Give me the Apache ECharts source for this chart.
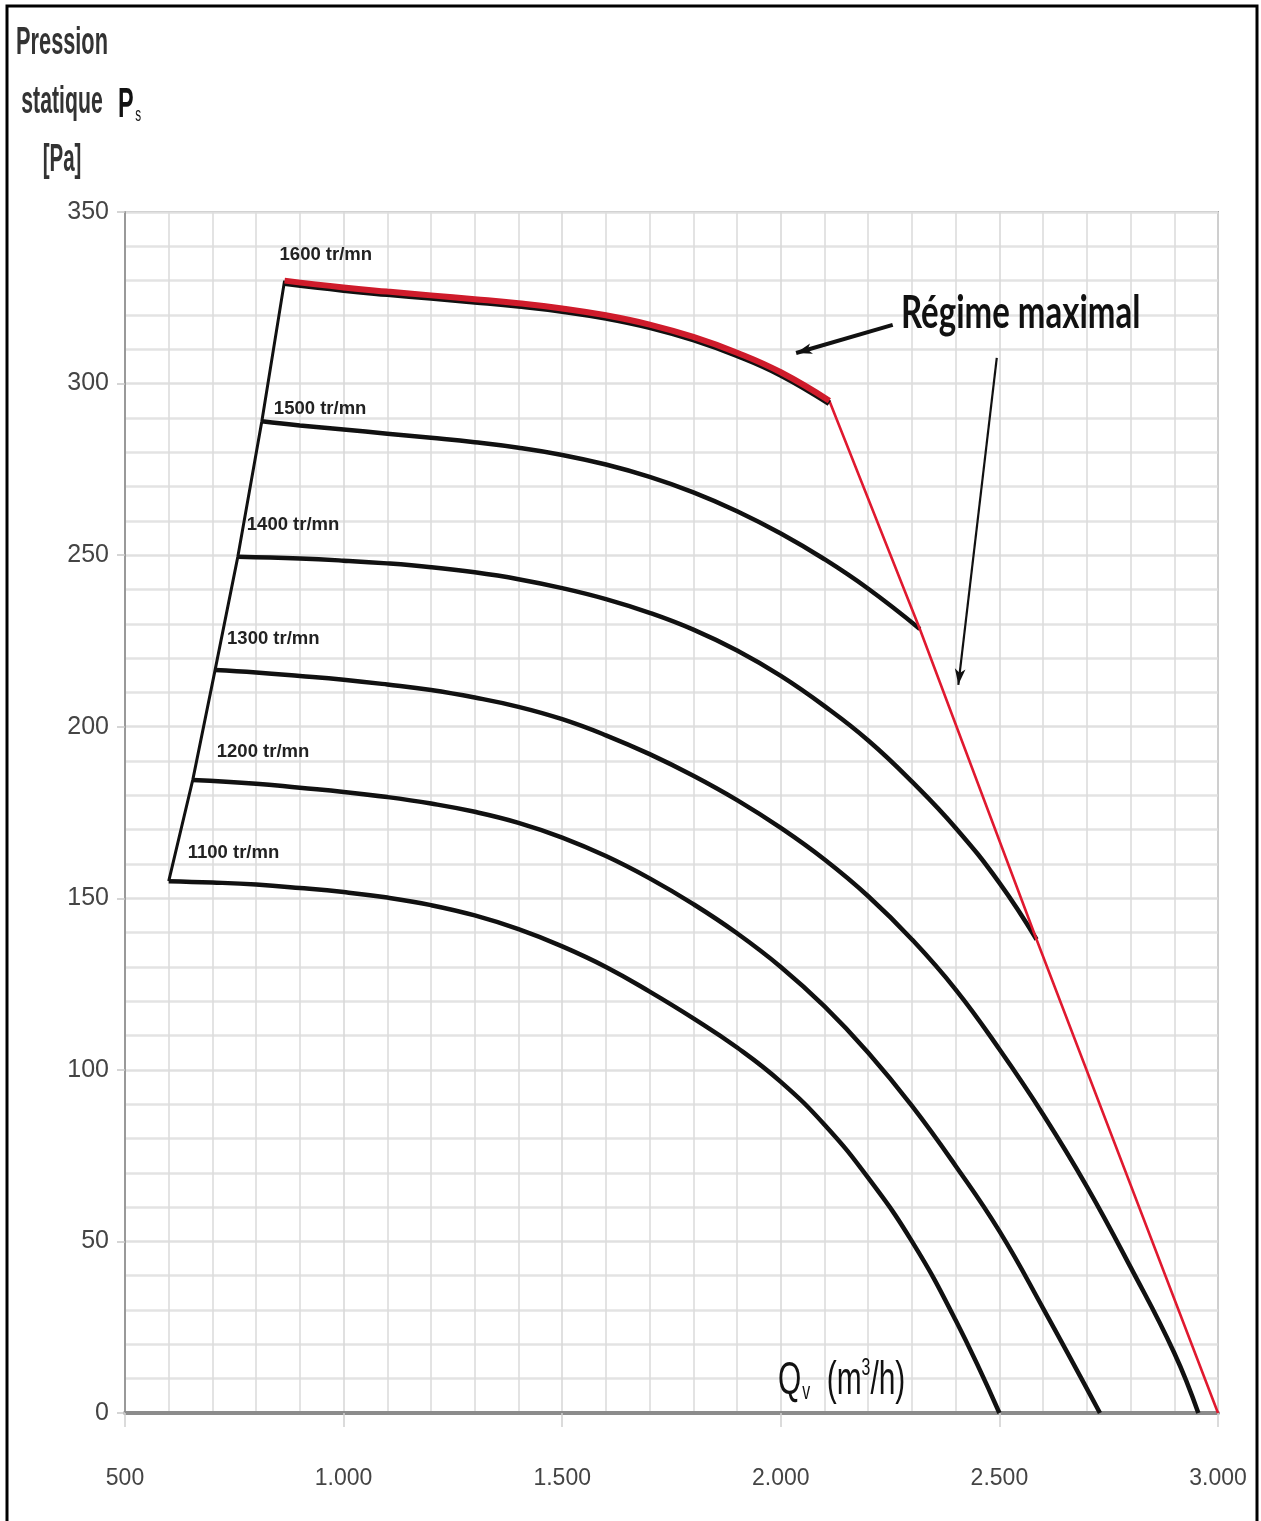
<!DOCTYPE html>
<html><head><meta charset="utf-8">
<script src="https://cdn.jsdelivr.net/npm/echarts@6/dist/echarts.min.js"></script>
<style>html,body{margin:0;padding:0;background:#fff}#c{width:1261px;height:1521px}</style>
</head><body><div id="c"></div>
<script>
// ---- data (Qv in m3/h, Ps in Pa) ----
const speeds = [1100, 1200, 1300, 1400, 1500, 1600];
const speedLabels = ['1100 tr/mn', '1200 tr/mn', '1300 tr/mn', '1400 tr/mn', '1500 tr/mn', '1600 tr/mn'];
const curve1100 = [[600,155],[700,154.6],[800,154],[900,153],[1000,151.8],[1100,150.2],[1200,148],[1300,145],[1400,141],[1500,136],[1600,130],[1700,122.8],[1800,115],[1900,106.5],[2000,96.5],[2100,84],[2200,68.5],[2300,50],[2400,27],[2500,0]];
const curve1200 = [[655,184.5],[800,183.4],[900,182.2],[1000,181],[1100,179.5],[1200,177.6],[1300,175.2],[1400,172],[1500,167.7],[1600,162.3],[1700,155.8],[1800,148.3],[1900,139.8],[2000,130],[2100,118.5],[2200,105],[2300,89.5],[2400,72],[2500,53],[2600,30.5],[2730,0]];
const curve1300 = [[706,216.5],[800,215.8],[900,214.8],[1000,213.7],[1100,212.3],[1200,210.7],[1300,208.5],[1400,205.8],[1500,202.2],[1600,197.5],[1700,192],[1800,185.7],[1900,178.6],[2000,170.5],[2100,161.3],[2200,150.6],[2300,138],[2400,123.4],[2500,106],[2600,87],[2700,66],[2800,42.5],[2900,17.5],[2955,0]];
const curve1400 = [[758,249.5],[900,249],[1000,248.4],[1100,247.6],[1200,246.5],[1300,245],[1400,243],[1500,240.4],[1600,237.2],[1700,233.2],[1800,228.3],[1900,222.2],[2000,214.8],[2100,206],[2200,196],[2300,184],[2400,170.5],[2500,154.5],[2585,138]];
const curve1500 = [[813,289],[900,287.8],[1000,286.6],[1100,285.4],[1200,284.2],[1300,282.9],[1400,281.3],[1500,279.2],[1600,276.4],[1700,272.8],[1800,268.3],[1900,262.8],[2000,256.3],[2100,248.8],[2200,240.2],[2318,228.5]];
const curve1600 = [[865,330],[1000,328],[1100,326.8],[1200,325.7],[1300,324.6],[1400,323.4],[1500,321.9],[1600,319.9],[1700,317.2],[1800,313.6],[1900,309],[2000,303.3],[2111,295]];
const maxRegime = [[2111,295],[2318,228.5],[2585,138],[3000,0]];
const xTicks = [500, 1000, 1500, 2000, 2500, 3000];
const yTicks = [0, 50, 100, 150, 200, 250, 300, 350];
const arrowToCurve = [[2256,317.1],[2035,308.9]];
const arrowToLine = [[2494,307.5],[2406,212.2]];

// ---- chart ----
const curves = [curve1100, curve1200, curve1300, curve1400, curve1500, curve1600];
const sans = "'Liberation Sans','Arimo',sans-serif";
const labelOffsets = [[14,-28],[19,-28],[7,-31],[4,-32],[7,-12],[-10,-26]];
const chart = echarts.init(document.getElementById('c'), null, {renderer: 'canvas'});

const fmtX = v => v >= 1000 ? Math.floor(v / 1000) + '.' + String(v % 1000).padStart(3, '0') : String(v);

const series = [];
curves.forEach((c, i) => {
  const isMax = i === curves.length - 1;
  series.push({
    type: 'line', name: speedLabels[i], silent: true, animation: false,
    smooth: 0.45, symbol: 'circle', symbolSize: 0, showSymbol: true,
    z: isMax ? 6 : 3,
    lineStyle: isMax
      ? {color: '#cf1b2b', width: 6, shadowColor: '#111', shadowOffsetY: 2.5, shadowBlur: 0}
      : {color: '#111', width: 4.5},
    data: c.map((p, j) => j === 0 ? {
      value: p,
      label: {show: true, formatter: speedLabels[i], position: 'right', offset: labelOffsets[i],
        fontFamily: sans, fontSize: 18.5, fontWeight: 'bold', color: '#222', align: 'left'}
    } : p)
  });
});
series.push({
  type: 'line', name: 'limite', silent: true, animation: false, z: 4,
  symbol: 'none', lineStyle: {color: '#111', width: 3},
  data: curves.map(c => c[0])
});
series.push({
  type: 'line', name: 'Régime maximal', silent: true, animation: false, z: 5,
  symbol: 'none', lineStyle: {color: '#e0192f', width: 2.6},
  data: maxRegime,
  markLine: {
    silent: true, animation: false, symbol: ['none', 'arrow'],
    label: {show: false},
    data: [
      [{coord: arrowToCurve[0], symbolSize: [20, 24], lineStyle: {color: '#111', width: 4, type: 'solid'}}, {coord: arrowToCurve[1]}],
      [{coord: arrowToLine[0], symbolSize: [16, 26], lineStyle: {color: '#111', width: 2.2, type: 'solid'}}, {coord: arrowToLine[1]}]
    ]
  }
});

const T = 100; // z for overlay texts
chart.setOption({
  backgroundColor: '#fff',
  animation: false,
  grid: {left: 125, right: 43, top: 212, bottom: 108, show: true, borderColor: '#a8a8a8', borderWidth: 2, backgroundColor: 'transparent'},
  xAxis: {
    type: 'value', min: xTicks[0], max: xTicks[xTicks.length - 1], interval: xTicks[1] - xTicks[0],
    axisLine: {show: true, onZero: false, lineStyle: {color: '#8c8c8c', width: 4}},
    axisTick: {show: true, length: 14, lineStyle: {color: '#cfcfcf', width: 1.5}},
    axisLabel: {formatter: fmtX, fontFamily: sans, fontSize: 23, color: '#444', margin: 54},
    splitLine: {show: true, lineStyle: {color: '#d9d9d9', width: 1.6}},
    minorTick: {show: false, splitNumber: 5},
    minorSplitLine: {show: true, lineStyle: {color: '#dcdcdc', width: 1.6}}
  },
  yAxis: {
    type: 'value', min: yTicks[0], max: yTicks[yTicks.length - 1], interval: yTicks[1] - yTicks[0],
    axisLine: {show: true, lineStyle: {color: '#999', width: 2}},
    axisTick: {show: true, length: 8, lineStyle: {color: '#c8c8c8', width: 1.5}},
    axisLabel: {fontFamily: sans, fontSize: 25, color: '#444', margin: 16},
    splitLine: {show: true, lineStyle: {color: '#e0e0e0', width: 2.6}},
    minorTick: {show: false, splitNumber: 5},
    minorSplitLine: {show: true, lineStyle: {color: '#e3e3e3', width: 2.6}}
  },
  series: series,
  graphic: [
    {type: 'rect', silent: true, z: T, shape: {x: 7, y: 6, width: 1250, height: 1540}, style: {fill: 'none', stroke: '#000', lineWidth: 3}},
    {type: 'text', silent: true, z: T, x: 62, y: 24, scaleX: 0.87, scaleY: 1.55, style: {text: 'Pression', fontFamily: sans, fontWeight: 'bold', fontSize: 25, fill: '#333', align: 'center', verticalAlign: 'top'}},
    {type: 'text', silent: true, z: T, x: 62, y: 83, scaleX: 0.85, scaleY: 1.55, style: {text: 'statique', fontFamily: sans, fontWeight: 'bold', fontSize: 25, fill: '#333', align: 'center', verticalAlign: 'top'}},
    {type: 'text', silent: true, z: T, x: 118, y: 84, scaleX: 0.78, scaleY: 1.4, style: {text: '{p|P}{s|s}', rich: {p: {fontFamily: sans, fontSize: 30, fontWeight: 'bold', fill: '#111', verticalAlign: 'bottom'}, s: {fontFamily: sans, fontSize: 15, fill: '#111', verticalAlign: 'bottom', padding: [0, 0, 0, 2]}}, verticalAlign: 'top'}},
    {type: 'text', silent: true, z: T, x: 62, y: 141, scaleX: 0.82, scaleY: 1.55, style: {text: '[Pa]', fontFamily: sans, fontWeight: 'bold', fontSize: 25, fill: '#333', align: 'center', verticalAlign: 'top'}},
    {type: 'text', silent: true, z: T, x: 901, y: 291, scaleY: 1.38, style: {text: 'Régime maximal', fontFamily: 'Lato', fontWeight: 'bold', fontSize: 33, fill: '#111', verticalAlign: 'top'}},
    {type: 'text', silent: true, z: T, x: 778, y: 1356, scaleX: 0.88, scaleY: 1.35, style: {text: '{q|Q}{v|v}{q|  (m}{e|3}{q|/h)}', rich: {
      q: {fontFamily: sans, fontSize: 34, fill: '#111', verticalAlign: 'bottom', lineHeight: 36},
      v: {fontFamily: sans, fontSize: 18, fill: '#111', verticalAlign: 'bottom', lineHeight: 36, padding: [0, 0, 0, 1]},
      e: {fontFamily: sans, fontSize: 18, fill: '#111', verticalAlign: 'top', lineHeight: 36}
    }, verticalAlign: 'top'}}
  ]
});
</script></body></html>
